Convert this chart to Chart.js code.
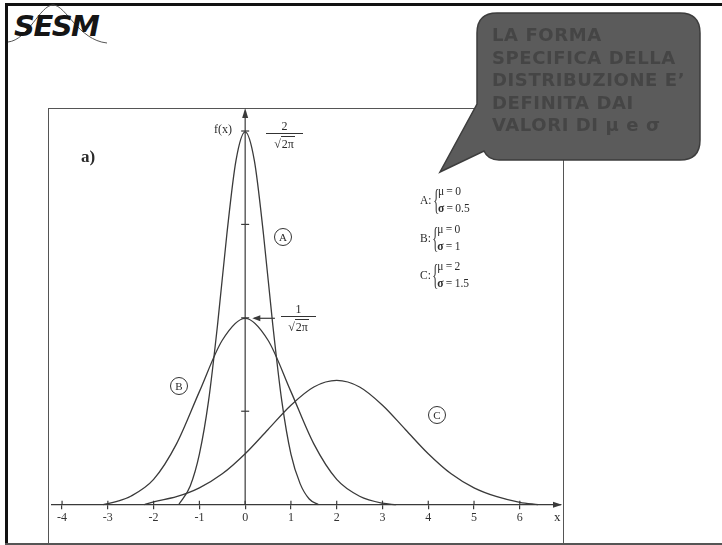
<!DOCTYPE html>
<html>
<head>
<meta charset="utf-8">
<script src="https://cdn.jsdelivr.net/npm/chart.js@4.4.1/dist/chart.umd.min.js"></script>
<style>
  body { margin: 0; background: #fff; }
  #slide { position: relative; width: 722px; height: 545px; overflow: hidden; background: #fff; }
  #slide div, #slide span { box-sizing: border-box; }
  .abs { position: absolute; }
  canvas { position: absolute; left: 0; top: 0; }
  .serif { font-family: "Liberation Serif", "DejaVu Serif", serif; color: #2a2a2a; }
  .frac { position: absolute; text-align: center; font-family: "Liberation Serif", serif; font-size: 12px; color: #2a2a2a; }
  .frac .num { line-height: 13px; }
  .frac .bar { border-top: 1px solid #333; }
  .frac .den { line-height: 13px; margin-top: 4px; }
  .frac .ov { border-top: 1px solid #333; padding: 0 1px; }
  .circ { position: absolute; width: 18px; height: 18px; border: 1px solid #333; border-radius: 50%;
          font: 11px "Liberation Serif", serif; color: #2a2a2a; text-align: center; line-height: 16px; }
  .leg { position: absolute; display: flex; align-items: center; font: 11.5px "Liberation Serif", serif; color: #2a2a2a; }
  .leg .br { font-size: 30px; line-height: 30px; transform: scaleX(0.45); margin: -3px -5px 0 -3px; color: #444; }
  .leg .ln { line-height: 17px; }
  #bubbleText { position: absolute; left: 492px; top: 24px; font: bold 18px "DejaVu Sans", sans-serif;
                letter-spacing: 0.6px; line-height: 22.5px; color: #454545; white-space: nowrap; }
</style>
</head>
<body>
<div id="slide">
  <!-- slide frame -->
  <div class="abs" style="left:5px;top:3px;width:717px;height:3px;background:#111"></div>
  <div class="abs" style="left:5px;top:3px;width:3px;height:541px;background:#111"></div>
  <div class="abs" style="left:5px;top:543px;width:717px;height:2px;background:#555"></div>

  <!-- logo -->
  <svg class="abs" style="left:0;top:0" width="120" height="50">
    <path d="M 8 42 C 28 40, 40 5, 53 5 C 66 5, 78 40, 107 43" fill="none" stroke="#555" stroke-width="1"/>
  </svg>
  <div class="abs" style="left:14px;top:9px;font:italic bold 29px 'DejaVu Sans',sans-serif;letter-spacing:-1.5px;color:#151515">SESM</div>

  <!-- picture box -->
  <div class="abs" style="left:48px;top:108px;width:516px;height:436px;border:1px solid #555"></div>

  <canvas id="myChart" width="722" height="545"></canvas>

  <!-- annotations -->
  <div class="abs serif" style="left:81px;top:147px;font-weight:bold;font-size:17px">a)</div>
  <div class="abs serif" style="left:214px;top:122px;font-size:12px">f(x)</div>
  <div class="frac" style="left:266px;top:120px;width:37px">
    <div class="num">2</div><div class="bar"></div><div class="den">&radic;<span class="ov">2&pi;</span></div>
  </div>
  <div class="frac" style="left:281px;top:303px;width:35px">
    <div class="num">1</div><div class="bar"></div><div class="den">&radic;<span class="ov">2&pi;</span></div>
  </div>
  <div class="abs serif" style="left:554px;top:509px;font-size:13px">x</div>

  <div class="circ" style="left:274px;top:228px">A</div>
  <div class="circ" style="left:170px;top:377px">B</div>
  <div class="circ" style="left:428px;top:406px">C</div>

  <div class="leg" style="left:420px;top:183px"><span>A:</span><span class="br">{</span>
    <div><div class="ln">&mu;&thinsp;=&thinsp;0</div><div class="ln"><b>&sigma;</b>&thinsp;=&thinsp;0.5</div></div></div>
  <div class="leg" style="left:420px;top:221px"><span>B:</span><span class="br">{</span>
    <div><div class="ln">&mu;&thinsp;=&thinsp;0</div><div class="ln"><b>&sigma;</b>&thinsp;=&thinsp;1</div></div></div>
  <div class="leg" style="left:420px;top:258px"><span>C:</span><span class="br">{</span>
    <div><div class="ln">&mu;&thinsp;=&thinsp;2</div><div class="ln"><b>&sigma;</b>&thinsp;=&thinsp;1.5</div></div></div>

  <!-- callout -->
  <svg class="abs" style="left:0;top:0" width="722" height="200">
    <path d="M 497 13 H 680 Q 700 13 700 33 V 140 Q 700 160 680 160 H 499 Q 488 160 484 151 L 440 172 L 477 104 V 33 Q 477 13 497 13 Z"
          fill="#5b5b5b" stroke="#3d3d3d" stroke-width="1.5"/>
  </svg>
  <div id="bubbleText">LA FORMA<br>SPECIFICA DELLA<br>DISTRIBUZIONE E&rsquo;<br>DEFINITA DAI<br>VALORI DI &mu; e &sigma;</div>
</div>

<script>
// curve A: mu = 0, sigma = 0.5
const aX = [-1.45, -1.2, -1.0, -0.8, -0.6, -0.4, -0.2, 0, 0.2, 0.4, 0.6, 0.8, 1.0, 1.2, 1.4, 1.6];
const aY = [0, 0.040, 0.108, 0.222, 0.388, 0.579, 0.737, 0.798, 0.737, 0.579, 0.388, 0.222, 0.108, 0.045, 0.012, 0];
// curve B: mu = 0, sigma = 1
const bX = [-3.1, -2.8, -2.5, -2.0, -1.5, -1.0, -0.5, 0, 0.5, 1.0, 1.5, 2.0, 2.5, 3.0, 3.3];
const bY = [0, 0.007, 0.018, 0.054, 0.130, 0.242, 0.352, 0.399, 0.352, 0.242, 0.130, 0.054, 0.018, 0.003, 0];
// curve C: mu = 2, sigma = 1.5
const cX = [-2.2, -2.0, -1.5, -1.0, -0.5, 0, 0.5, 1.0, 1.5, 2.0, 2.5, 3.0, 3.5, 4.0, 4.5, 5.0, 5.5, 6.0, 6.4];
const cY = [0, 0.006, 0.017, 0.036, 0.066, 0.109, 0.161, 0.213, 0.252, 0.266, 0.252, 0.213, 0.161, 0.109, 0.066, 0.036, 0.017, 0.005, 0];

const xTicks = [-4, -3, -2, -1, 0, 1, 2, 3, 4, 5, 6];
const yTicks = [0.2, 0.4, 0.6, 0.8];
const peakB = 0.399;

const ink = '#3a3a3a';
const pts = (xs, ys) => xs.map((x, i) => ({x: x, y: ys[i]}));

// axis extras: y axis with arrow, crossing ticks, x arrow, pointer to 1/sqrt(2pi)
const axisExtras = {
  id: 'axisExtras',
  afterDraw(chart) {
    const {ctx, scales: {x, y}, chartArea} = chart;
    const x0 = x.getPixelForValue(0), y0 = y.getPixelForValue(0);
    ctx.save();
    ctx.strokeStyle = ink; ctx.fillStyle = ink; ctx.lineWidth = 1.2;
    ctx.beginPath(); ctx.moveTo(x0, y0); ctx.lineTo(x0, chartArea.top + 2); ctx.stroke();
    yTicks.forEach(v => {
      const py = y.getPixelForValue(v);
      ctx.beginPath(); ctx.moveTo(x0 - 4, py); ctx.lineTo(x0 + 4, py); ctx.stroke();
    });
    xTicks.forEach(v => {
      const px = x.getPixelForValue(v);
      ctx.beginPath(); ctx.moveTo(px, y0 - 4); ctx.lineTo(px, y0); ctx.stroke();
    });
    // arrow heads
    ctx.beginPath();
    ctx.moveTo(x0, chartArea.top - 2); ctx.lineTo(x0 - 3, chartArea.top + 8); ctx.lineTo(x0 + 3, chartArea.top + 8); ctx.closePath();
    ctx.fill();
    ctx.beginPath();
    ctx.moveTo(chartArea.right + 1, y0); ctx.lineTo(chartArea.right - 8, y0 - 3); ctx.lineTo(chartArea.right - 8, y0 + 3); ctx.closePath();
    ctx.fill();
    // pointer arrow to the peak of B
    const py = y.getPixelForValue(peakB);
    const xa = x.getPixelForValue(0.2), xb = x.getPixelForValue(0.65);
    ctx.beginPath(); ctx.moveTo(xb, py); ctx.lineTo(xa, py); ctx.stroke();
    ctx.beginPath(); ctx.moveTo(xa - 2, py); ctx.lineTo(xa + 6, py - 3); ctx.lineTo(xa + 6, py + 3); ctx.closePath(); ctx.fill();
    ctx.restore();
  }
};

const curve = (label, data) => ({
  label: label,
  data: data,
  borderColor: ink,
  borderWidth: 1.3,
  pointRadius: 0,
  fill: false,
  cubicInterpolationMode: 'monotone'
});

new Chart('myChart', {
  type: 'line',
  data: {
    datasets: [
      curve('A', pts(aX, aY)),
      curve('B', pts(bX, bY)),
      curve('C', pts(cX, cY))
    ]
  },
  options: {
    responsive: false,
    animation: false,
    devicePixelRatio: 1,
    layout: {padding: {left: 52, right: 161, top: 110, bottom: 3}},
    plugins: {legend: {display: false}, tooltip: {enabled: false}},
    scales: {
      x: {
        type: 'linear',
        min: -4.22,
        max: 6.9,
        position: {y: 0},
        afterBuildTicks: s => { s.ticks = xTicks.map(v => ({value: v})); },
        border: {color: ink, width: 1.2},
        grid: {drawOnChartArea: false, tickLength: 4, color: ink, lineWidth: 1.2},
        ticks: {
          color: '#333',
          font: {family: 'Liberation Serif', size: 12},
          padding: 2,
          maxRotation: 0,
          autoSkip: false
        }
      },
      y: {
        type: 'linear',
        display: false,
        min: -0.08,
        max: 0.845
      }
    }
  },
  plugins: [axisExtras]
});
</script>
</body>
</html>
